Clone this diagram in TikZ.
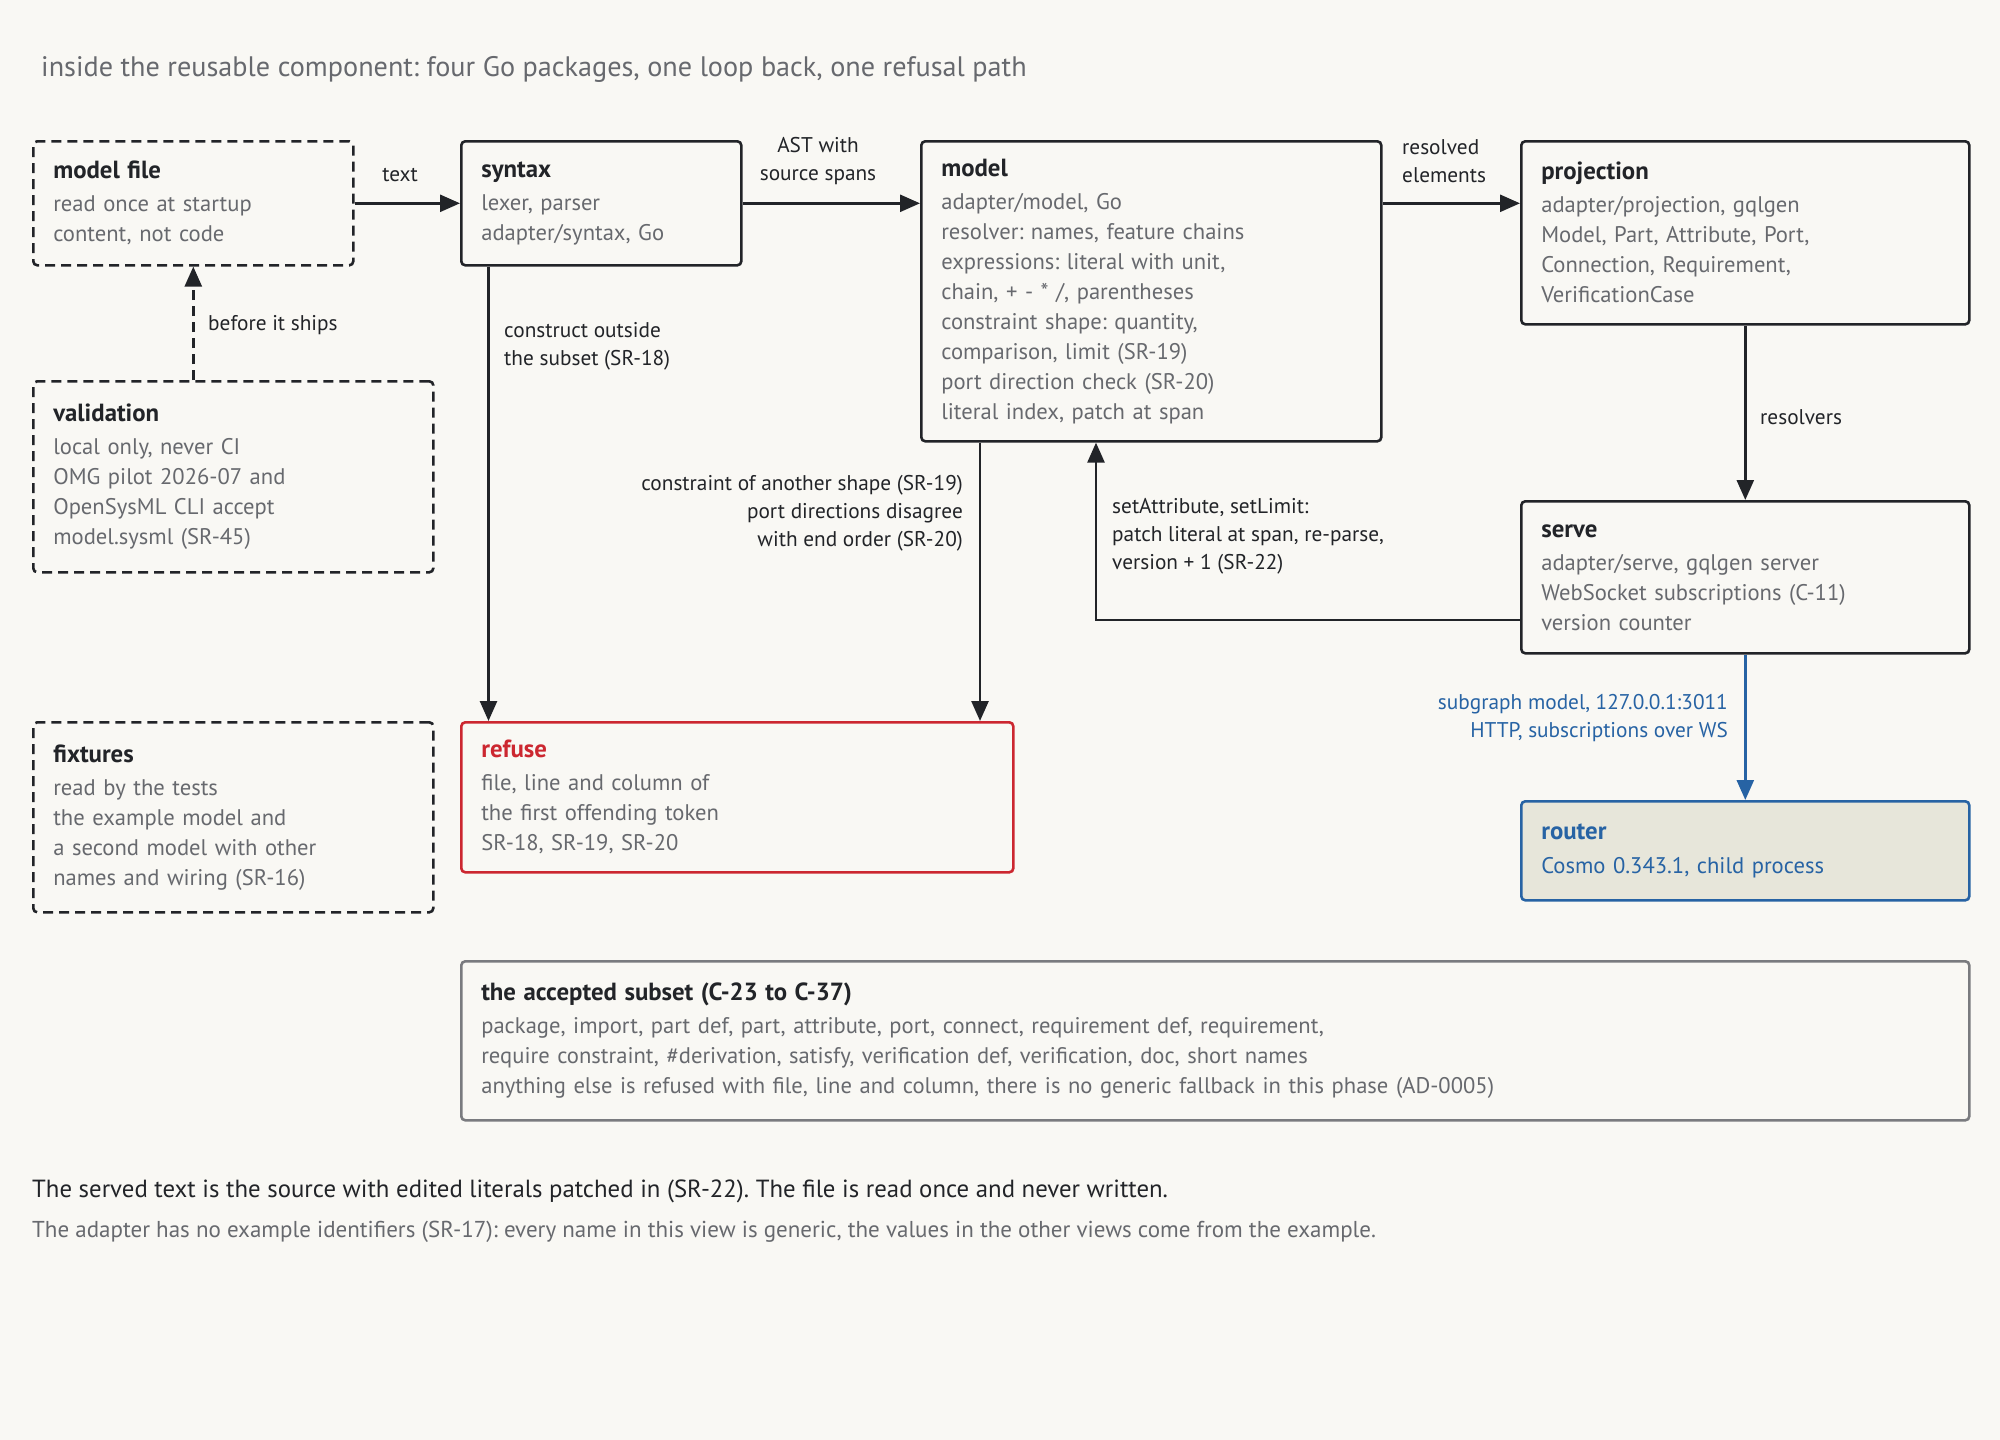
\documentclass[tikz,border=0pt]{standalone}
\usepackage{fontspec}
\setmainfont{PT Sans}
\usetikzlibrary{arrows.meta,calc}
\frenchspacing
\definecolor{bg}{HTML}{F9F8F4}
\definecolor{dk}{HTML}{222428}
\definecolor{gy}{HTML}{67696E}
\definecolor{rd}{HTML}{CC2730}
\definecolor{bl}{HTML}{2763A4}
\definecolor{rtfill}{HTML}{E7E6DA}
\definecolor{acc}{HTML}{7A7B7F}
\newcommand\dgbody{\fontsize{22.6}{30}\selectfont}
\newcommand\dghead{\fontsize{24.8}{30}\selectfont\bfseries}
\newcommand\dglab{\fontsize{21.3}{28}\selectfont}
\tikzset{
  box/.style={draw=dk, line width=2.6pt, rounded corners=4pt, anchor=north west,
    inner xsep=20pt, inner ysep=0pt, align=left, text=gy, font=\dgbody},
  dbox/.style={box, dash pattern=on 10pt off 6pt},
  conn/.style={draw=dk, line width=2.6pt, -{Triangle[length=20pt,width=17pt]}},
  lab/.style={text=dk, font=\dglab, inner sep=0pt},
}
\begin{document}
\begin{tikzpicture}[x=1pt,y=-1pt]
\useasboundingbox[fill=bg] (0,0) rectangle (2000,1440);
\node[text=gy, font=\fontsize{28.2}{32}\selectfont, anchor=west, inner sep=0pt] (title) at (41,69)
  {inside the reusable component: four Go packages, one loop back, one refusal path};

\node[dbox, text width=280pt, minimum height=124pt] (mf) at (32,140)
  {{\dghead\color{dk}model file}\\[3pt]read once at startup\\content, not code};
\node[box, text width=240pt, minimum height=124pt] (syn) at (460,140)
  {{\dghead\color{dk}syntax}\\[3pt]lexer, parser\\adapter/syntax, Go};
\node[box, text width=420pt, minimum height=300pt] (mdl) at (920,140)
  {{\dghead\color{dk}model}\\[3pt]adapter/model, Go\\resolver: names, feature chains\\expressions: literal with unit,\\chain, + - * /, parentheses\\constraint shape: quantity,\\comparison, limit (SR-19)\\port direction check (SR-20)\\literal index, patch at span};
\node[box, text width=408pt, minimum height=183pt] (proj) at (1520,140)
  {{\dghead\color{dk}projection}\\[3pt]adapter/projection, gqlgen\\Model, Part, Attribute, Port,\\Connection, Requirement,\\VerificationCase};
\node[dbox, text width=360pt, minimum height=191pt] (val) at (32,380)
  {{\dghead\color{dk}validation}\\[3pt]local only, never CI\\OMG pilot 2026-07 and\\OpenSysML CLI accept\\model.sysml (SR-45)};
\node[box, text width=408pt, minimum height=152pt] (srv) at (1520,500)
  {{\dghead\color{dk}serve}\\[3pt]adapter/serve, gqlgen server\\WebSocket subscriptions (C-11)\\version counter};
\node[dbox, text width=360pt, minimum height=190pt] (fix) at (32,721)
  {{\dghead\color{dk}fixtures}\\[3pt]read by the tests\\the example model and\\a second model with other\\names and wiring (SR-16)};
\node[box, draw=rd, text width=512pt, minimum height=150pt] (ref) at (460,721)
  {{\dghead\color{rd}refuse}\\[3pt]file, line and column of\\the first offending token\\SR-18, SR-19, SR-20};
\node[box, draw=bl, fill=rtfill, text=bl, text width=408pt, minimum height=99pt] (rtr) at (1520,800)
  {{\dghead\color{bl}router}\\[4pt]Cosmo 0.343.1, child process};
\node[box, draw=acc, text width=1468pt, minimum height=159pt] (accs) at (460,960)
  {{\dghead\color{dk}the accepted subset (C-23 to C-37)}\\[3pt]package, import, part def, part, attribute, port, connect, requirement def, requirement,\\require constraint, \#derivation, satisfy, verification def, verification, doc, short names\\anything else is refused with file, line and column, there is no generic fallback in this phase (AD-0005)};

\node[text=dk, font=\fontsize{24.8}{30}\selectfont, anchor=west, inner sep=0pt] (note1) at (32,1191)
  {The served text is the source with edited literals patched in (SR-22). The file is read once and never written.};
\node[text=gy, font=\fontsize{23}{28}\selectfont, anchor=west, inner sep=0pt] (note2) at (32,1232)
  {The adapter has no example identifiers (SR-17): every name in this view is generic, the values in the other views come from the example.};

% connectors
\draw[conn] (mf.east) -- (syn.west);
\node[lab] (ltext) at (400,175) {text};
\draw[conn] (syn.east) -- (syn.east -| mdl.west);
\node[lab, align=center] (last) at (818,161) {AST with\\source spans};
\draw[conn] (mdl.east |- syn.east) -- (proj.west |- syn.east);
\node[lab, align=left, anchor=west] (lres) at (1402,161) {resolved\\elements};
\draw[conn, dash pattern=on 10pt off 6pt] (val.north -| mf.south) -- (mf.south);
\node[lab, anchor=west] (lship) at (208,325) {before it ships};
\coordinate (sa) at ($(syn.south west)+(28.5,0)$);
\draw[conn] (sa) -- (sa |- ref.north);
\node[lab, align=left, anchor=west] (lcons) at (504,346) {construct outside\\the subset (SR-18)};
\coordinate (ma) at ($(mdl.south west)+(60,0)$);
\draw[conn] (ma) -- (ma |- ref.north);
\node[lab, align=right, anchor=east] (lshape) at (963,513) {constraint of another shape (SR-19)\\port directions disagree\\with end order (SR-20)};
\coordinate (sv) at ($(srv.north west)+(0,120)$);
\coordinate (mb) at ($(mdl.south west)+(176,0)$);
\draw[conn] (sv) -- (sv -| mb) -- (mb);
\node[lab, align=left, anchor=west] (lset) at (1112,536) {setAttribute, setLimit:\\patch literal at span, re-parse,\\version + 1 (SR-22)};
\draw[conn] (proj.south) -- (srv.north);
\node[lab, anchor=west] (lresv) at (1760,417) {resolvers};
\draw[conn, draw=bl, -{Triangle[length=20pt,width=17pt,fill=bl]}] (srv.south) -- (rtr.north);
\node[lab, text=bl, align=right, anchor=east] (lsub) at (1728,718) {subgraph model, 127.0.0.1:3011\\HTTP, subscriptions over WS};
\end{tikzpicture}
\end{document}
